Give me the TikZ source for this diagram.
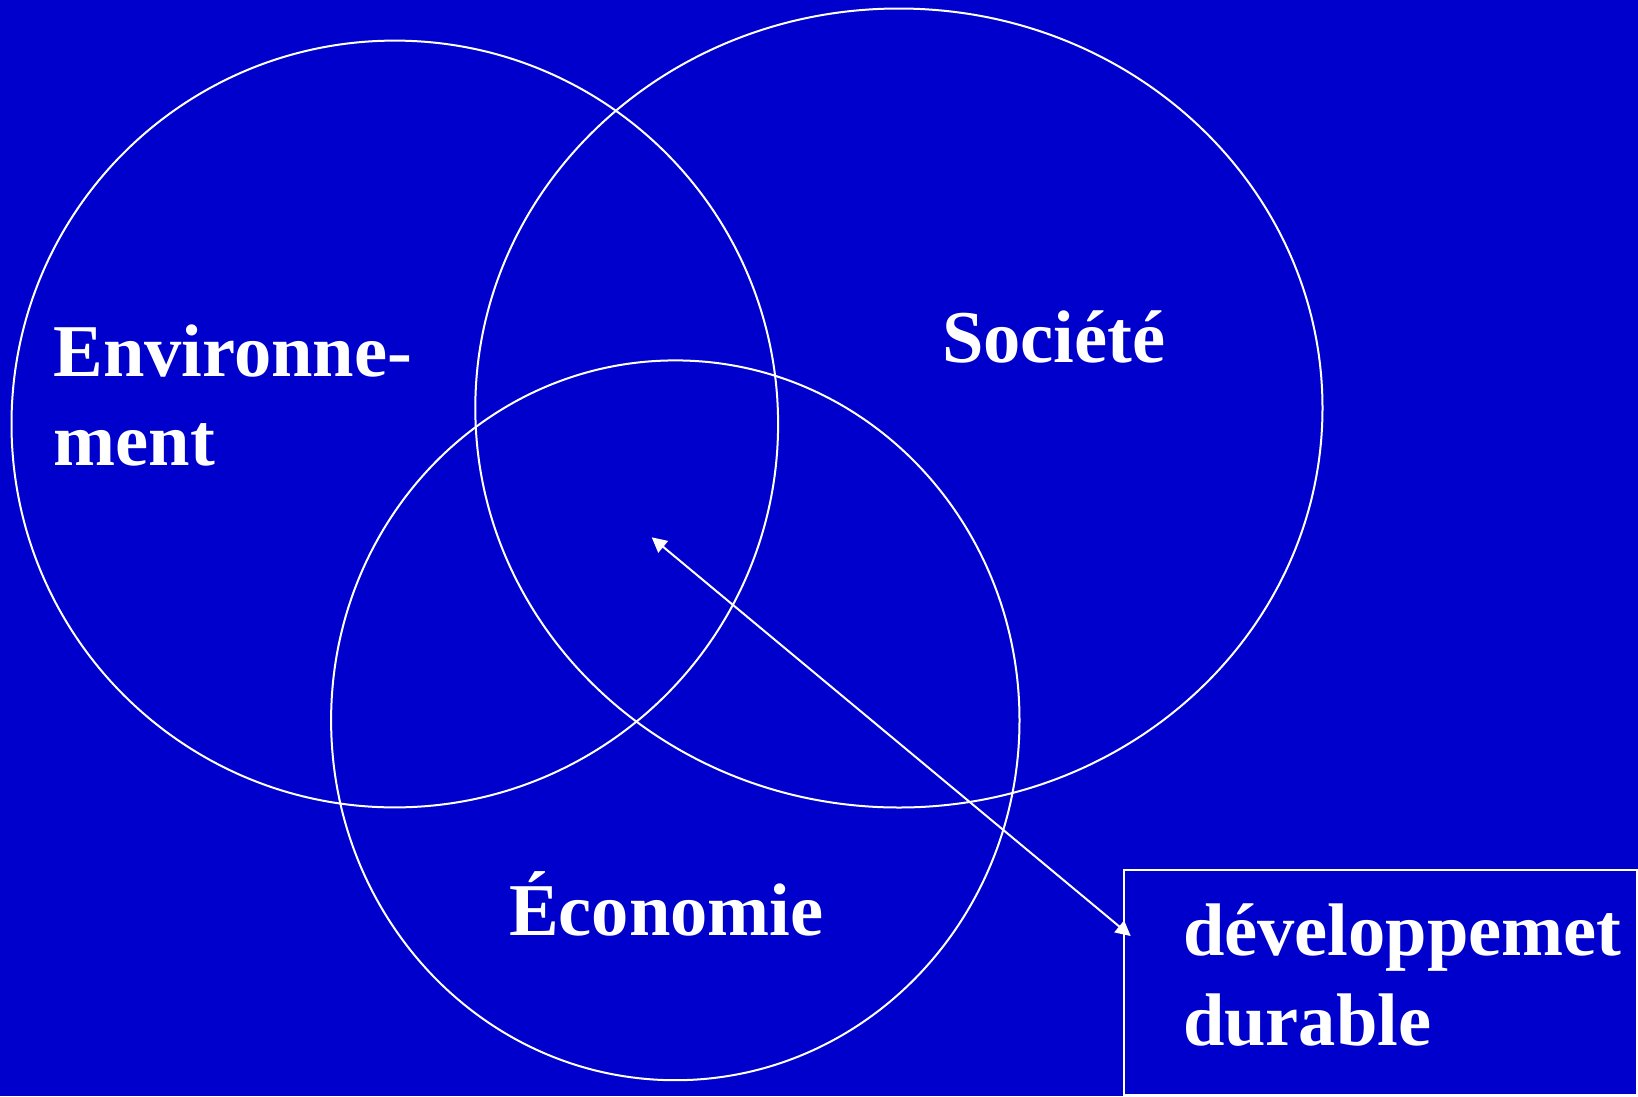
\documentclass[tikz,border=0pt]{standalone}
\usepackage{fontspec}
\setmainfont{Liberation Serif}
\usetikzlibrary{arrows.meta}
\definecolor{bgblue}{RGB}{0,0,204}
\begin{document}
\begin{tikzpicture}[x=1pt,y=-1pt,
  ring/.style={draw=white,line width=2pt},
  label/.style={text=white,font=\bfseries\fontsize{74.5}{89.7}\selectfont,inner sep=0pt,outer sep=0pt,anchor=base west,align=left},
  boxstyle/.style={draw=white,line width=2pt,inner sep=0pt,outer sep=0pt,anchor=north west},
  conn/.style={draw=white,line width=2pt,{Triangle[length=15pt,width=15pt]}-{Triangle[length=15pt,width=15pt]}}]
\fill[bgblue] (0,0) rectangle (1638,1096);
\useasboundingbox (0,0) rectangle (1638,1096);
% circles
\draw[ring] (394.8,424) ellipse [x radius=383.3pt, y radius=383.4pt];
\draw[ring] (898.9,408) ellipse [x radius=423.6pt, y radius=399.5pt];
\draw[ring] (675.3,720.3) ellipse [x radius=344.2pt, y radius=359.9pt];
% labels (multi-line nodes anchored at the baseline of their last line)
\node[label] (env) at (53.5,465.7) {Environne-\\ment};
\node[label] (soc) at (942,362.7) {Société};
\node[label] (eco) at (509,935) {Économie};
% box
\node[boxstyle,minimum width=512.5pt,minimum height=225pt] (box) at (1124,870) {};
\node[label] (dd) at (1183,1045) {développemet\\durable};
% arrow
\coordinate (centre) at (651.7,537.3);
\coordinate (tip) at (1130.7,936);
\draw[conn] (centre) -- (tip);
\end{tikzpicture}
\end{document}
